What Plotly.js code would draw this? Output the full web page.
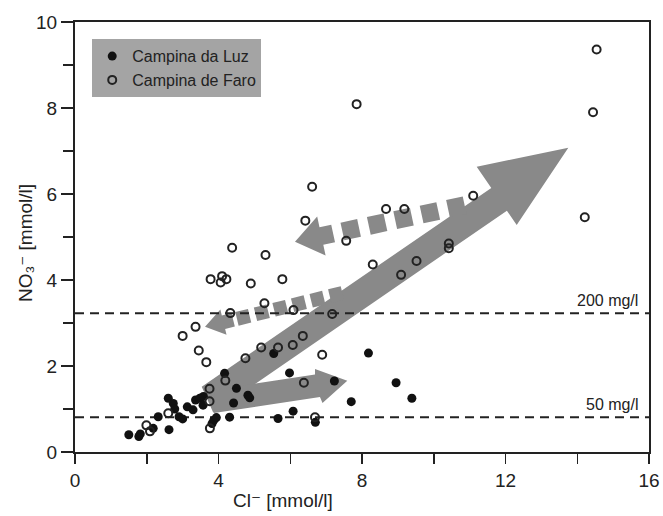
<!DOCTYPE html>
<html><head><meta charset="utf-8">
<script src="https://cdn.plot.ly/plotly-3.0.1.min.js"></script>
<style>html,body{margin:0;padding:0;background:#fff}</style>
</head><body>
<div id="chart" style="width:663px;height:516px"></div>
<script>
// Campina da Luz (filled circles)
const luzCl  = [1.50,1.78,1.82,2.18,2.32,2.62,2.60,2.74,2.78,2.90,3.00,3.13,3.29,3.36,3.48,3.57,3.58,3.82,3.87,3.94,4.17,4.31,4.42,4.50,4.82,4.87,5.54,5.98,6.08,5.66,6.70,7.23,7.70,8.18,8.95,9.39];
const luzNO3 = [0.40,0.36,0.42,0.55,0.82,0.52,1.25,1.13,1.00,0.82,0.77,1.05,0.98,1.21,1.25,1.09,1.29,0.66,0.74,0.80,1.83,0.81,1.14,1.48,1.32,1.26,2.29,1.84,0.95,0.78,0.69,1.65,1.17,2.30,1.61,1.25];
// Campina de Faro (open circles)
const faroCl  = [14.54,14.44,14.21,7.85,6.61,6.42,8.67,9.18,11.10,7.56,4.38,5.31,8.30,9.52,9.09,10.42,10.42,3.78,4.10,4.22,4.06,4.90,5.78,5.28,4.33,6.09,7.17,3.36,3.00,3.45,3.66,4.75,5.19,5.66,6.07,6.35,6.89,6.38,6.69,4.19,3.75,3.75,2.60,1.99,2.09,3.76];
const faroNO3 = [9.36,7.90,5.46,8.09,6.17,5.38,5.65,5.65,5.96,4.91,4.75,4.58,4.36,4.44,4.12,4.85,4.74,4.02,4.09,4.02,3.94,3.92,4.02,3.46,3.23,3.30,3.21,2.91,2.70,2.36,2.09,2.18,2.43,2.43,2.49,2.70,2.26,1.61,0.81,1.66,1.47,1.18,0.90,0.62,0.48,0.55];
// Ticks (labelled majors and unlabelled minors)
const xTickVals = [0,4,8,12,16];
const xTickText = ['0','4','8','12','16'];
const xMinorVals = [2,6,10,14];
const yTickVals = [0,2,4,6,8,10];
const yTickText = ['0','2','4','6','8','10'];
const yMinorVals = [1,3,5,7,9];
// Nitrate limits (50 and 200 mg/l expressed in mmol/l)
const limitNO3 = [0.806, 3.226];
const limitLabels = ['50 mg/l', '200 mg/l'];
const seriesNames = ['Campina da Luz', 'Campina de Faro'];
const xTitle = 'Cl\u207B [mmol/l]';
const yTitle = 'NO\u2083\u207B [mmol/l]';

// ---- decoration geometry (gray interpretive arrows) ----
const PL = 75, PT = 22, PW = 574, PH = 430, XR = 16, YR = 10;
function toData(p){ return [((p[0]-PL)/PW*XR).toFixed(3), ((PT+PH-p[1])/PH*YR).toFixed(3)]; }
function pathOf(pts){ return 'M' + pts.map(p => toData(p).join(',')).join('L') + 'Z'; }
function dashedArrow(T, slope, headLen, headHalf, stubEnd, half, centers, dashLen){
  const L = Math.hypot(1, slope), d = [1/L, slope/L], n = [-d[1], d[0]];
  const at = (s, w) => [T[0]+s*d[0]+w*n[0], T[1]+s*d[1]+w*n[1]];
  const out = [[T, at(headLen,-headHalf), at(headLen,-half), at(stubEnd,-half), at(stubEnd,half), at(headLen,half), at(headLen,headHalf)]];
  centers.forEach(c => out.push([at(c-dashLen/2,-half), at(c+dashLen/2,-half), at(c+dashLen/2,half), at(c-dashLen/2,half)]));
  return out;
}
const arrowColor = '#898989';
const polys = [
  [[201.7,386.7],[491.3,188],[476.7,166.7],[568.3,147.7],[516.7,225],[506.9,210.7],[213.3,412.7]],
  [[214,390],[315,374.5],[315,369],[347.3,380.7],[322.5,403],[320,397],[214,413]]
].concat(
  dashedArrow([295,241.7], -0.215, 27, 20, 39, 9, [57,84,111,138,165], 17),
  dashedArrow([205,326.7], -0.245, 19, 13, 29, 7, [39.4,58.5,77.6,96.7,115.8,134.9], 13)
);
const shapes = polys.map(p => ({type:'path', path:pathOf(p), xref:'x', yref:'y', fillcolor:arrowColor, line:{width:0}, layer:'below'}));
limitNO3.forEach(v => shapes.push({type:'line', xref:'x', yref:'y', x0:0, x1:16, y0:v, y1:v, line:{color:'#222', width:2, dash:'9px,6px'}, layer:'below'}));

const font = 'Liberation Sans, Arial, DejaVu Sans, sans-serif';
const traces = [
  {x:luzCl, y:luzNO3, name:seriesNames[0], type:'scatter', mode:'markers',
   marker:{symbol:'circle', size:9, color:'#111'}},
  {x:faroCl, y:faroNO3, name:seriesNames[1], type:'scatter', mode:'markers',
   marker:{symbol:'circle-open', size:8, color:'#222', line:{width:2, color:'#222'}}}
];
const axisBase = {showline:true, linewidth:2, linecolor:'#222', mirror:true, showgrid:false, zeroline:false,
  ticks:'outside', tickwidth:1.5, tickcolor:'#222', tickmode:'array', tickfont:{family:font, size:19, color:'#222'}};
const layout = {
  width:663, height:516, margin:{l:PL, r:663-PL-PW, t:PT, b:516-PT-PH},
  paper_bgcolor:'#fff', plot_bgcolor:'#fff', font:{family:font, color:'#222'},
  xaxis:Object.assign({}, axisBase, {range:[0,16], tickvals:xTickVals, ticktext:xTickText, ticklen:10,
    minor:{tickmode:'array', tickvals:xMinorVals, ticks:'outside', ticklen:10, tickwidth:1.5, tickcolor:'#222', showgrid:false}}),
  yaxis:Object.assign({}, axisBase, {range:[0,10], tickvals:yTickVals, ticktext:yTickText, ticklen:12,
    minor:{tickmode:'array', tickvals:yMinorVals, ticks:'outside', ticklen:10, tickwidth:1.5, tickcolor:'#222', showgrid:false}}),
  showlegend:true,
  legend:{x:0.03, y:0.96, xanchor:'left', yanchor:'top', bgcolor:'#a4a4a4', borderwidth:0,
          font:{family:font, size:16, color:'#222'}, itemwidth:30, tracegroupgap:0},
  shapes:shapes,
  annotations:[
    {xref:'x', yref:'y', x:15.75, y:limitNO3[1]+0.3, text:limitLabels[1], showarrow:false, xanchor:'right', yanchor:'middle', font:{size:16, family:font, color:'#222'}},
    {xref:'x', yref:'y', x:15.75, y:limitNO3[0]+0.3, text:limitLabels[0], showarrow:false, xanchor:'right', yanchor:'middle', font:{size:16, family:font, color:'#222'}},
    {xref:'paper', yref:'paper', x:(283-PL)/PW, y:(PT+PH-500)/PH, text:xTitle, showarrow:false, xanchor:'center', yanchor:'middle', font:{size:19, family:font, color:'#222'}},
    {xref:'paper', yref:'paper', x:(25-PL)/PW, y:(PT+PH-243)/PH, text:yTitle, textangle:-90, showarrow:false, xanchor:'center', yanchor:'middle', font:{size:19, family:font, color:'#222'}}
  ]
};
Plotly.newPlot('chart', traces, layout, {displayModeBar:false, staticPlot:true});
</script>
</body></html>
